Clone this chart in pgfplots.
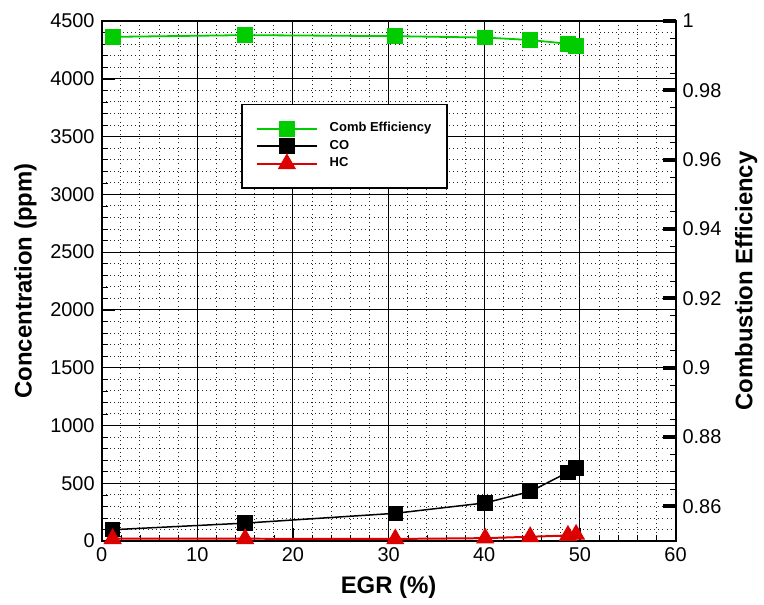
\documentclass[border=0pt]{standalone}
\usepackage{pgfplots}
\pgfplotsset{compat=1.18}
\usepackage{fontspec}
\setmainfont{Liberation Sans}

\definecolor{effgreen}{RGB}{0,204,0}
\definecolor{hcred}{RGB}{220,0,0}

% EGR (%) against emissions and combustion efficiency
\pgfplotstableread{
egr   co
1.15  98
15.0  155
30.7  240
40.1  330
44.8  428
48.75 595
49.6  630
}\codata
\pgfplotstableread{
egr   hc
1.15  20
15.0  20
30.7  18
40.1  25
44.8  37
48.75 48
49.6  57
}\hcdata
\pgfplotstableread{
egr   eff
1.15  0.9954
15.0  0.9959
30.7  0.9956
40.1  0.9952
44.8  0.9945
48.75 0.9934
49.6  0.9928
}\effdata

\pgfplotsset{
  base/.style={
    scale only axis, width=288pt, height=261pt,
    xmin=0, xmax=60,
    /pgf/number format/assume math mode=true,
    tick label style={font=\fontsize{10}{12}\selectfont},
    label style={font=\fontsize{12}{14}\selectfont\bfseries},
    axis line style={line width=1pt},
    tick align=inside,
    major tick length=6.5pt, minor tick length=3pt,
    tick style={black},
  },
  lgimg/.style={
    legend image code/.code={%
      \draw[mark repeat=2,mark phase=2,##1]
        plot coordinates {(0pt,0pt) (15pt,0pt) (30pt,0pt)};}
  },
}

\begin{document}
\begin{tikzpicture}
\begin{axis}[base, name=conc,
  ymin=0, ymax=4500,
  xtick={0,10,...,60}, minor x tick num=4,
  ytick={0,500,...,4500}, minor y tick num=4,
  grid=both,
  major grid style={black, line width=0.5pt},
  minor grid style={black!85, line width=0.4pt, dash pattern=on 0.5pt off 1.6pt},
  xtick pos=bottom, ytick pos=left,
  xlabel={EGR (\%)}, ylabel={Concentration (ppm)},
  scaled y ticks=false,
  yticklabel style={/pgf/number format/1000 sep={}},
]
\addplot[black, line width=0.75pt, mark=square*, mark size=3.5pt,
  mark options={solid}] table[x=egr, y=co] {\codata};
\addplot[hcred, line width=1pt, mark=triangle*, mark size=4.3pt,
  mark options={solid}] table[x=egr, y=hc] {\hcdata};
\end{axis}

\begin{axis}[base, lgimg,
  axis x line=none, axis y line*=right,
  ymin=0.85, ymax=1,
  ytick={0.86,0.88,...,1.001}, minor y tick num=3,
  major tick style={line width=2pt},
  yticklabel style={/pgf/number format/fixed, /pgf/number format/precision=2},
  ylabel={Combustion Efficiency},
  legend style={at={(rel axis cs:0.2431,0.841)}, anchor=north west,
    draw=black, line width=0.9pt, fill=white,
    font=\fontsize{6.5}{7.5}\selectfont\bfseries,
    inner xsep=7pt, inner ysep=8pt, row sep=0.6pt, column sep=5pt,
    nodes={inner sep=1pt}},
  legend cell align=left,
]
\addplot[effgreen, line width=0.9pt, mark=square*, mark size=3.5pt,
  mark options={solid}] table[x=egr, y=eff] {\effdata};
\addlegendentry{Comb Efficiency}
\addlegendimage{black, line width=0.75pt, mark=square*, mark size=3.5pt}
\addlegendentry{CO}
\addlegendimage{hcred, line width=1pt, mark=triangle*, mark size=4.3pt}
\addlegendentry{HC}
\end{axis}

\path (conc.south west) ++(-51pt,-30.5pt) coordinate (bbsw);
\path (conc.north east) ++(43pt,10.5pt) coordinate (bbne);
\path (bbsw) rectangle (bbne);
\end{tikzpicture}
\end{document}
